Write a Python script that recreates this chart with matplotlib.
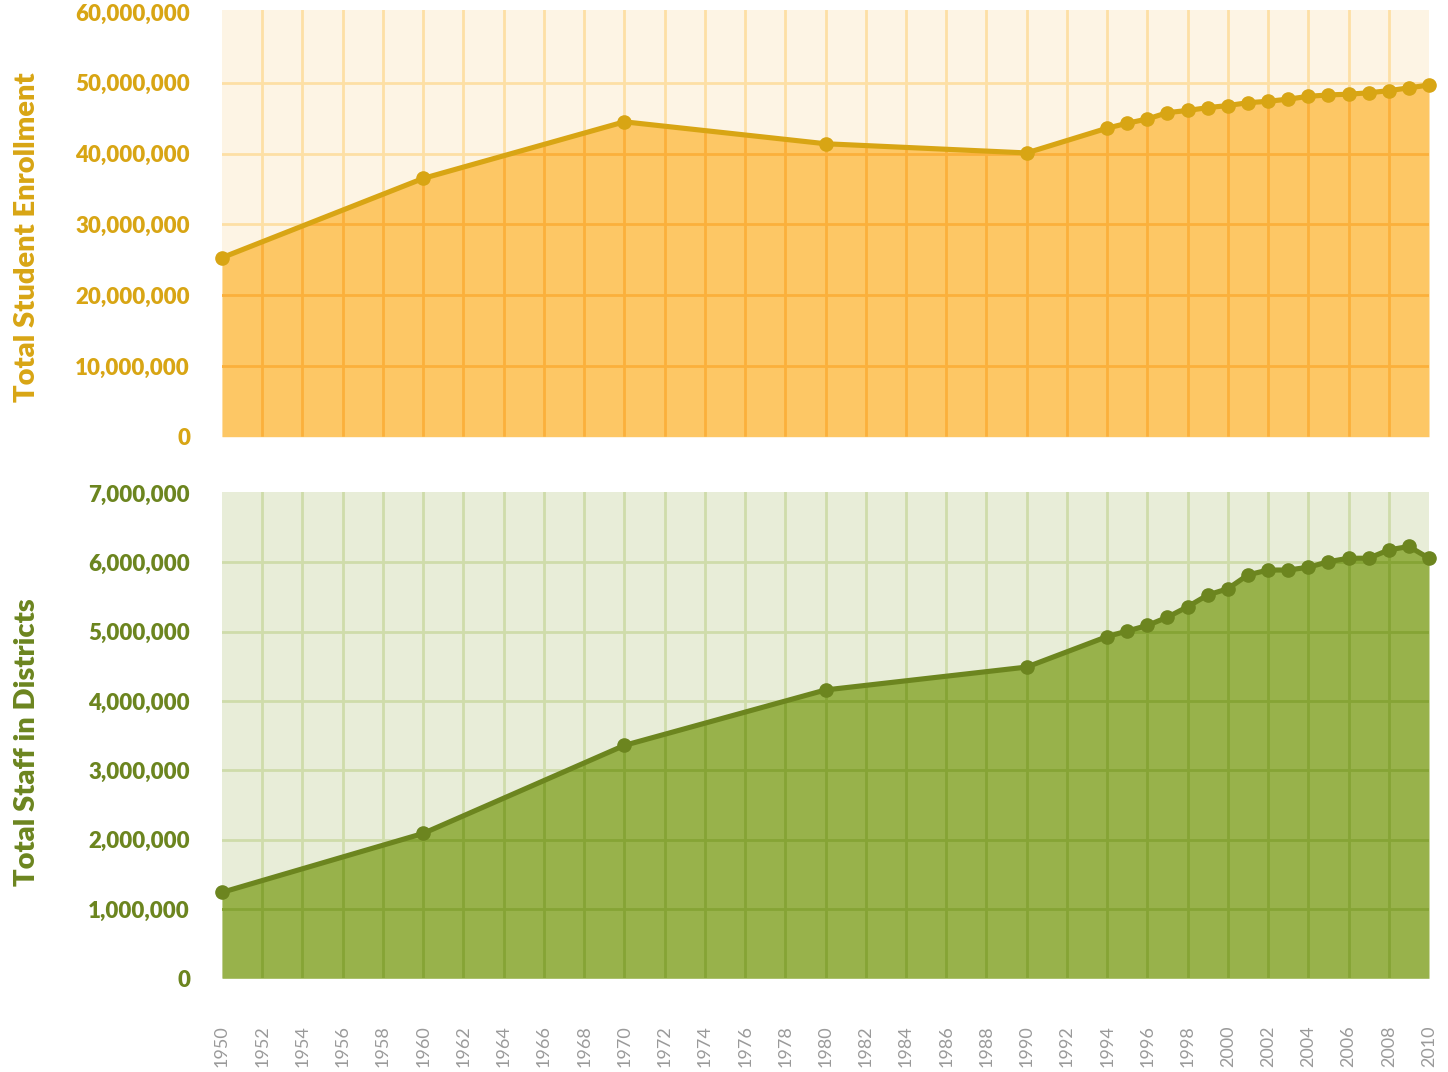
import matplotlib
matplotlib.use('Agg')
import matplotlib.pyplot as plt
from matplotlib.ticker import FuncFormatter

years = [1950, 1960, 1970, 1980, 1990, 1994, 1995, 1996, 1997, 1998, 1999, 2000,
         2001, 2002, 2003, 2004, 2005, 2006, 2007, 2008, 2009, 2010]
enrollment = [25.3, 36.5, 44.5, 41.4, 40.1, 43.6, 44.3, 44.9, 45.8, 46.1, 46.5, 46.8,
              47.2, 47.4, 47.7, 48.1, 48.3, 48.4, 48.6, 48.9, 49.3, 49.7]  # millions
staff = [1.24, 2.09, 3.36, 4.16, 4.49, 4.93, 5.01, 5.09, 5.21, 5.36, 5.53, 5.62,
         5.82, 5.89, 5.89, 5.93, 6.01, 6.06, 6.06, 6.18, 6.23, 6.06]  # millions
year_ticks = list(range(1950, 2011, 2))

plt.rcParams['font.family'] = ['Lato', 'DejaVu Sans']

W, H = 1448, 1072
fig = plt.figure(figsize=(W / 100, H / 100), dpi=100)
ax1 = fig.add_axes([222 / W, 1 - 436.7 / H, 1207 / W, 426.7 / H])
ax2 = fig.add_axes([222 / W, 1 - 978.3 / H, 1207 / W, 486.6 / H])


def commas(v, pos):
    return '{:,.0f}'.format(v)


def panel(ax, values, scale, ymax, step, bg, fill, line, grid_bg, grid_fill, label, label_y):
    vals = [v * scale for v in values]
    ax.set_facecolor(bg)
    ax.set_xlim(1950, 2010)
    ax.set_ylim(0, ymax)
    poly = ax.fill_between(years, 0, vals, color=fill, lw=0, zorder=1)
    clip = poly.get_paths()[0]
    yt = list(range(0, int(ymax) + 1, step))
    # pale grid on background, darker copy clipped to the filled area
    for x in year_ticks[1:-1]:
        ax.axvline(x, color=grid_bg, lw=2, zorder=0.5)
        g = ax.axvline(x, color=grid_fill, lw=2, zorder=1.5)
        g.set_clip_path(clip, ax.transData)
    for y in yt[1:-1]:
        ax.axhline(y, color=grid_bg, lw=2, zorder=0.5)
        g = ax.axhline(y, color=grid_fill, lw=2, zorder=1.5)
        g.set_clip_path(clip, ax.transData)
    ax.plot(years, vals, '-o', color=line, lw=3.7, ms=9.5, zorder=3, clip_on=False)
    for s in ax.spines.values():
        s.set_visible(False)
    ax.set_yticks(yt)
    ax.yaxis.set_major_formatter(FuncFormatter(commas))
    ax.tick_params(axis='y', length=0, pad=23, labelcolor=line, labelsize=16)
    for t in ax.get_yticklabels():
        t.set_fontweight('heavy')
    ax.set_xticks(year_ticks)
    ax.tick_params(axis='x', length=0)
    ax.set_ylabel(label, color=line, fontsize=21, fontweight='heavy')
    ax.yaxis.set_label_coords(-0.151, label_y)


panel(ax1, enrollment, 1e6, 60.3e6, 10000000, '#FDF4E4', '#FDC765', '#D8A514',
      '#FDDFA5', '#FBB03B', 'Total Student Enrollment', 0.468)
panel(ax2, staff, 1e6, 7.02e6, 1000000, '#E8EDD8', '#98B24B', '#6C851F',
      '#CFDCAA', '#86A435', 'Total Staff in Districts', 0.485)

ax1.tick_params(axis='x', labelbottom=False)
ax2.tick_params(axis='x', pad=34, labelcolor='#9a9a9a', labelsize=13, labelrotation=90)

fig.savefig('out.png', dpi=100)
